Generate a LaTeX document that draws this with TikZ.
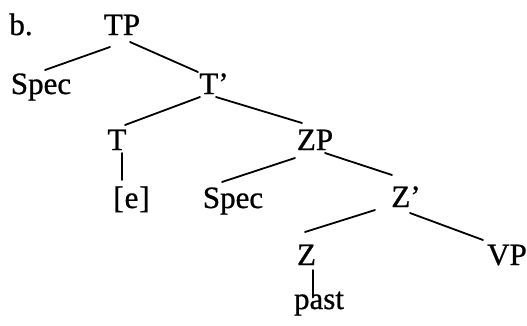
\documentclass[tikz,border=0pt]{standalone}
\usepackage{fontspec}
\setmainfont{Liberation Serif}
\newfontfamily\treefont{Liberation Serif}[FakeBold=0.8]
\begin{document}
\begin{tikzpicture}[x=1pt,y=-1pt,
  lab/.style={anchor=base,inner sep=0pt,font=\treefont\fontsize{31}{37}\selectfont},
  branch/.style={line width=1.8pt,line cap=round}]
\useasboundingbox (0,0) rectangle (527,325);
% tree labels, placed by their baselines
\node[lab] (b)     at (21,35)    {b.};
\node[lab] (TP)    at (122,35)   {TP};
\node[lab] (SpecA) at (41,94)    {Spec};
\node[lab] (Tbar)  at (214,94)   {T’};
\node[lab] (T)     at (117,150)  {T};
\node[lab] (ZP)    at (315,150)  {ZP};
\node[lab] (e)     at (131.5,208) {[\kern1pt e\kern1pt]};
\node[lab] (SpecB) at (233,208)  {Spec};
\node[lab] (Zbar)  at (406,207)  {Z’};
\node[lab] (Z)     at (306.5,265) {Z};
\node[lab] (VP)    at (507,265)  {VP};
\node[lab] (past)  at (319,309)  {past};
% branches
\draw[branch] ([shift={(-12,12)}]TP.base)  -- ([shift={(4,-24)}]SpecA.base);
\draw[branch] ([shift={(8,7)}]TP.base)     -- ([shift={(-16,-22)}]Tbar.base);
\draw[branch] ([shift={(-14,3)}]Tbar.base) -- ([shift={(8,-25)}]T.base);
\draw[branch] ([shift={(2,3)}]Tbar.base)   -- ([shift={(-13,-27)}]ZP.base);
\draw[branch] ([shift={(5,3)}]T.base)      -- ([shift={(-9.5,-28)}]e.base);
\draw[branch] ([shift={(-20,8)}]ZP.base)   -- ([shift={(-11,-26)}]SpecB.base);
\draw[branch] ([shift={(10,3)}]ZP.base)    -- ([shift={(-14,-32)}]Zbar.base);
\draw[branch] ([shift={(-31,3)}]Zbar.base) -- ([shift={(-1.5,-33)}]Z.base);
\draw[branch] ([shift={(4,6)}]Zbar.base)   -- ([shift={(-24,-25)}]VP.base);
\draw[branch] ([shift={(6.5,5)}]Z.base)    -- ([shift={(-6,-12)}]past.base);
\end{tikzpicture}
\end{document}
